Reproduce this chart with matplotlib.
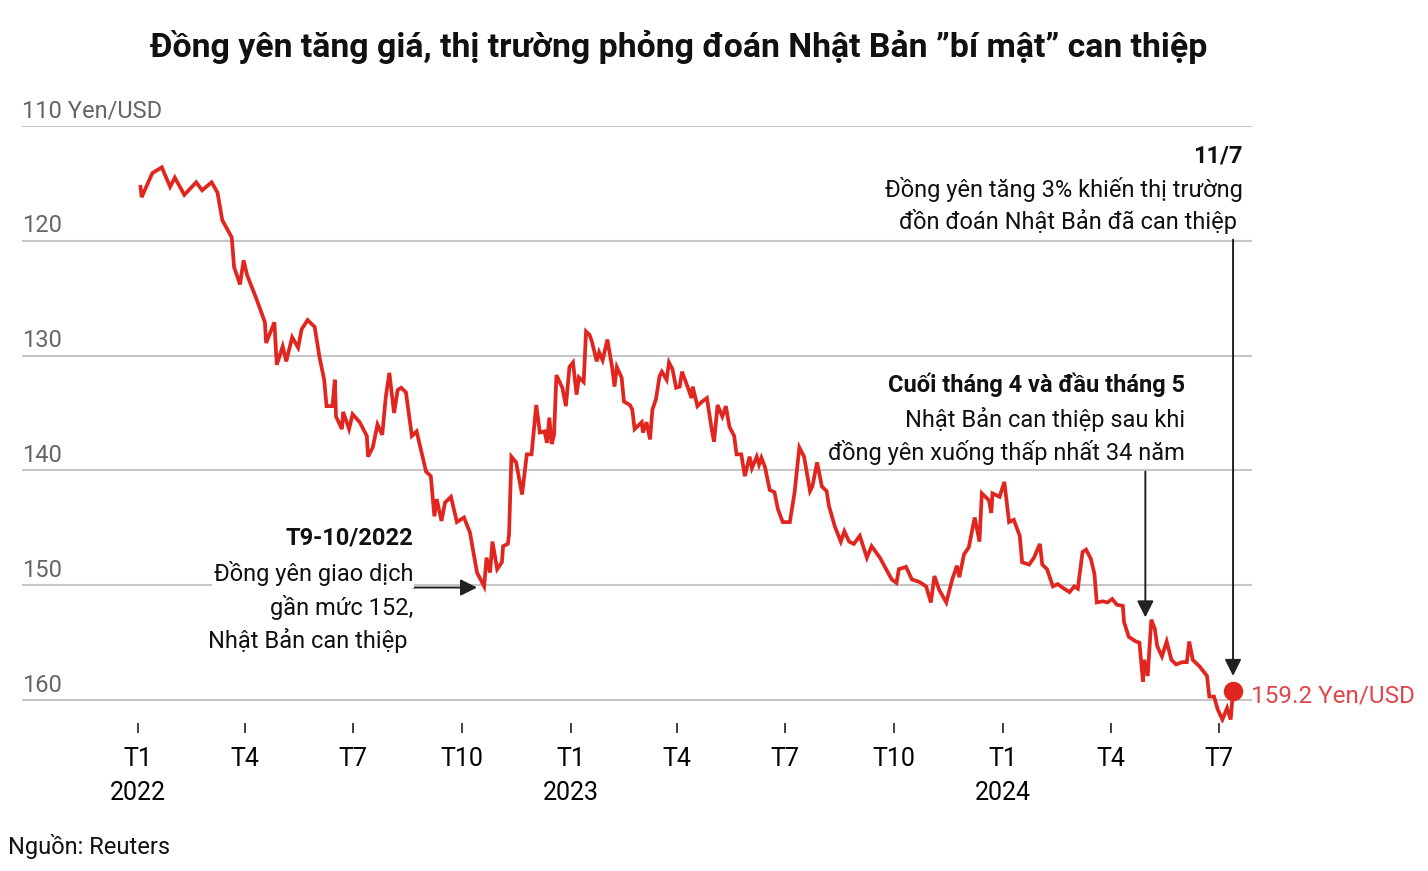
import matplotlib
matplotlib.use('Agg')
import matplotlib.pyplot as plt
import pandas as pd

plt.rcParams['font.family'] = ['Roboto', 'DejaVu Sans']

# USD/JPY
dates = [
    '2022-01-03', '2022-01-04', '2022-01-13', '2022-01-21', '2022-01-28', '2022-02-01', '2022-02-09',
    '2022-02-19', '2022-02-24', '2022-03-04', '2022-03-09', '2022-03-13', '2022-03-21', '2022-03-23',
    '2022-03-28', '2022-03-31', '2022-04-03', '2022-04-11', '2022-04-18', '2022-04-19', '2022-04-26',
    '2022-04-28', '2022-05-03', '2022-05-06', '2022-05-11', '2022-05-16', '2022-05-19', '2022-05-24',
    '2022-05-30', '2022-06-03', '2022-06-07', '2022-06-09', '2022-06-14', '2022-06-16', '2022-06-17',
    '2022-06-22', '2022-06-23', '2022-06-28', '2022-07-01', '2022-07-07', '2022-07-13', '2022-07-14',
    '2022-07-18', '2022-07-22', '2022-07-26', '2022-07-29', '2022-08-01', '2022-08-05', '2022-08-08',
    '2022-08-11', '2022-08-15', '2022-08-20', '2022-08-24', '2022-08-29', '2022-09-01', '2022-09-05',
    '2022-09-08', '2022-09-10', '2022-09-14', '2022-09-17', '2022-09-22', '2022-09-27', '2022-10-03',
    '2022-10-08', '2022-10-14', '2022-10-20', '2022-10-22', '2022-10-25', '2022-10-27', '2022-10-31',
    '2022-11-04', '2022-11-05', '2022-11-09', '2022-11-10', '2022-11-12', '2022-11-16', '2022-11-21',
    '2022-11-25', '2022-11-29', '2022-12-03', '2022-12-06', '2022-12-10', '2022-12-12', '2022-12-14',
    '2022-12-16', '2022-12-18', '2022-12-20', '2022-12-25', '2022-12-28', '2022-12-31',
    '2023-01-03', '2023-01-06', '2023-01-08', '2023-01-12', '2023-01-14', '2023-01-17', '2023-01-19',
    '2023-01-23', '2023-01-25', '2023-01-28', '2023-02-01', '2023-02-05', '2023-02-07', '2023-02-09',
    '2023-02-13', '2023-02-15', '2023-02-20', '2023-02-22', '2023-02-24', '2023-02-26', '2023-03-02',
    '2023-03-03', '2023-03-06', '2023-03-09', '2023-03-11', '2023-03-14', '2023-03-17', '2023-03-19',
    '2023-03-23', '2023-03-25', '2023-03-28', '2023-03-31', '2023-04-03', '2023-04-05', '2023-04-10',
    '2023-04-13', '2023-04-14', '2023-04-18', '2023-04-22', '2023-04-26', '2023-04-30', '2023-05-02',
    '2023-05-05', '2023-05-09', '2023-05-12', '2023-05-15', '2023-05-19', '2023-05-21', '2023-05-25',
    '2023-05-28', '2023-06-01', '2023-06-03', '2023-06-07', '2023-06-09', '2023-06-11', '2023-06-14',
    '2023-06-18', '2023-06-22', '2023-06-25', '2023-06-29', '2023-07-05', '2023-07-09', '2023-07-13',
    '2023-07-17', '2023-07-22', '2023-07-24', '2023-07-28', '2023-08-01', '2023-08-05', '2023-08-07',
    '2023-08-12', '2023-08-17', '2023-08-20', '2023-08-24', '2023-08-28', '2023-09-02', '2023-09-08',
    '2023-09-12', '2023-09-19', '2023-09-29', '2023-10-03', '2023-10-05', '2023-10-11', '2023-10-16',
    '2023-10-22', '2023-10-28', '2023-11-01', '2023-11-04', '2023-11-08', '2023-11-14', '2023-11-19',
    '2023-11-23', '2023-11-25', '2023-11-29', '2023-12-03', '2023-12-08', '2023-12-12', '2023-12-14',
    '2023-12-20', '2023-12-22', '2023-12-23', '2023-12-29',
    '2024-01-02', '2024-01-06', '2024-01-10', '2024-01-15', '2024-01-17', '2024-01-23', '2024-01-27',
    '2024-02-01', '2024-02-03', '2024-02-07', '2024-02-12', '2024-02-16', '2024-02-20', '2024-02-26',
    '2024-03-01', '2024-03-04', '2024-03-08', '2024-03-11', '2024-03-15', '2024-03-18', '2024-03-20',
    '2024-03-25', '2024-03-29', '2024-04-02', '2024-04-06', '2024-04-11', '2024-04-12', '2024-04-16',
    '2024-04-22', '2024-04-25', '2024-04-28', '2024-04-29', '2024-05-02', '2024-05-05', '2024-05-08',
    '2024-05-10', '2024-05-14', '2024-05-18', '2024-05-22', '2024-05-26', '2024-05-31', '2024-06-04',
    '2024-06-06', '2024-06-09', '2024-06-15', '2024-06-21', '2024-06-23', '2024-06-27', '2024-06-30',
    '2024-07-04', '2024-07-08', '2024-07-11', '2024-07-13',
]
usd_jpy = [
    115.3, 116.2, 114.1, 113.6, 115.3, 114.5, 116.0,
    114.9, 115.6, 114.9, 115.8, 118.2, 119.7, 122.3,
    123.8, 121.7, 123.0, 125.1, 127.1, 128.9, 127.1,
    130.8, 129.2, 130.5, 128.4, 129.3, 127.7, 126.9,
    127.5, 130.1, 132.1, 134.4, 134.4, 132.1, 135.3,
    136.4, 134.9, 136.4, 135.1, 135.8, 137.0, 138.8,
    138.0, 136.0, 136.9, 133.6, 131.5, 135.0, 133.0,
    132.8, 133.2, 137.0, 136.6, 138.8, 140.1, 140.5,
    144.0, 142.5, 144.4, 142.8, 142.3, 144.5, 144.1,
    145.4, 148.9, 150.1, 147.6, 148.9, 146.2, 148.6,
    148.0, 146.6, 146.4, 145.6, 138.8, 139.3, 142.1,
    138.6, 138.6, 134.3, 136.7, 136.6, 137.6, 135.4,
    137.7, 136.9, 131.7, 132.8, 134.4, 131.0,
    130.6, 133.4, 131.9, 132.3, 127.9, 128.2, 128.8,
    130.5, 129.7, 130.4, 128.6, 131.0, 132.7, 131.0,
    131.9, 134.0, 134.3, 134.7, 136.4, 136.2, 135.8,
    136.7, 135.8, 137.3, 134.7, 133.8, 131.8, 131.4,
    132.1, 130.6, 131.2, 132.8, 132.7, 131.4, 132.8,
    133.7, 132.7, 134.4, 134.0, 133.7, 136.4, 137.5,
    134.3, 135.3, 134.4, 136.2, 137.0, 138.6, 138.6,
    140.5, 138.8, 139.8, 138.8, 139.5, 138.9, 139.7,
    141.7, 141.9, 143.4, 144.5, 144.5, 141.9, 138.0,
    138.8, 141.8, 141.4, 139.3, 141.4, 141.8, 143.1,
    144.9, 146.2, 145.3, 146.2, 146.4, 145.7, 147.6,
    146.6, 147.6, 149.5, 149.8, 148.6, 148.4, 149.5,
    149.7, 150.1, 151.5, 149.2, 150.4, 151.5, 149.5,
    148.3, 149.3, 147.3, 146.7, 144.1, 146.2, 142.0,
    142.6, 143.7, 142.0, 142.3,
    141.0, 144.5, 144.3, 145.7, 148.0, 148.2, 147.6,
    146.4, 148.2, 148.6, 150.1, 149.9, 150.2, 150.6,
    150.1, 150.3, 147.1, 146.9, 147.7, 149.0, 151.5,
    151.4, 151.5, 151.2, 151.7, 151.8, 153.2, 154.5,
    154.9, 155.0, 158.4, 156.5, 157.9, 153.0, 153.8,
    155.3, 156.2, 154.9, 156.5, 156.9, 156.7, 156.7,
    154.9, 156.5, 157.1, 157.9, 159.7, 159.7, 160.8,
    161.7, 160.7, 161.7, 159.2,
]

tick_dates = ['2022-01-01', '2022-04-01', '2022-07-01', '2022-10-01', '2023-01-01', '2023-04-01',
              '2023-07-01', '2023-10-01', '2024-01-01', '2024-04-01', '2024-07-01']
tick_labels = ['T1\n2022', 'T4', 'T7', 'T10', 'T1\n2023', 'T4', 'T7', 'T10', 'T1\n2024', 'T4', 'T7']
grid_values = [110, 120, 130, 140, 150, 160]
grid_labels = ['110 Yen/USD', '120', '130', '140', '150', '160']

RED = '#e0261f'

df = pd.DataFrame({'date': pd.to_datetime(dates), 'rate': usd_jpy})
last_date = df['date'].iloc[-1]
last_rate = df['rate'].iloc[-1]

fig = plt.figure(figsize=(14.28, 8.71), dpi=100)
ax = fig.add_axes([22 / 1428, 1 - 723 / 871, 1230 / 1428, 597 / 871])

for v, lab in zip(grid_values, grid_labels):
    ax.axhline(v, color='#c6c6c6', lw=1.5, zorder=1)
    ax.annotate(lab, xy=(0, v), xycoords=('axes fraction', 'data'), xytext=(0, 6),
                textcoords='offset points', ha='left', va='baseline', fontsize=17,
                color='#666666')

ax.plot(df['date'], df['rate'], color=RED, lw=2.7, zorder=3, solid_joinstyle='miter')
ax.plot(last_date, last_rate, 'o', color=RED, ms=13, zorder=4)
ax.annotate(f"{last_rate:.1f} Yen/USD", xy=(last_date, last_rate),
            xytext=(13, -4), textcoords='offset points', ha='left', va='center',
            fontsize=17.5, color='#e0464a', annotation_clip=False)

start = pd.Timestamp('2022-01-01')
ax.set_xlim(start - pd.Timedelta(days=98), start + pd.Timedelta(days=940))
ax.set_ylim(162, 110)

ax.set_xticks(pd.to_datetime(tick_dates))
ax.set_xticklabels(tick_labels, fontsize=18, linespacing=1.55)
ax.tick_params(axis='x', length=7, width=1.3, color='#333333', pad=10)
ax.set_yticks([])
for s in ax.spines.values():
    s.set_visible(False)

# arrows
arrow = dict(arrowstyle='-|>', color='#222222', lw=1.4, mutation_scale=25, shrinkA=0, shrinkB=0)

ax.annotate('', xy=(last_date, 157.9), xytext=(last_date, 119.9), arrowprops=arrow, zorder=5)
ax.annotate('', xy=(pd.Timestamp('2024-04-30'), 152.8), xytext=(pd.Timestamp('2024-04-30'), 140.1),
            arrowprops=arrow, zorder=5)
ax.annotate('', xy=(pd.Timestamp('2022-10-14'), 150.2), xytext=(pd.Timestamp('2022-08-21'), 150.2),
            arrowprops=arrow, zorder=5)

def note(x, y, s, bold=False, bg=False):
    t = fig.text(x / 1428, 1 - y / 871, s, ha='right', va='center', fontsize=17,
                 fontweight='bold' if bold else 'normal', color='#111111', zorder=6)
    if bg:
        t.set_bbox(dict(facecolor='white', edgecolor='none', pad=1))
    return t

note(1243, 156, '11/7', bold=True)
note(1243, 189, 'Đồng yên tăng 3% khiến thị trường')
note(1237, 222, 'đồn đoán Nhật Bản đã can thiệp')

note(1185, 385, 'Cuối tháng 4 và đầu tháng 5', bold=True)
note(1185, 419, 'Nhật Bản can thiệp sau khi')
note(1185, 452, 'đồng yên xuống thấp nhất 34 năm')

note(413, 538, 'T9-10/2022', bold=True, bg=True)
note(413, 574, 'Đồng yên giao dịch', bg=True)
note(413, 607, 'gần mức 152,', bg=True)
note(408, 640, 'Nhật Bản can thiệp', bg=True)

fig.text(679 / 1428, 1 - 47 / 871, 'Đồng yên tăng giá, thị trường phỏng đoán Nhật Bản ”bí mật” can thiệp',
         ha='center', va='center', fontsize=24.4, fontweight='bold', color='#111111')
fig.text(8 / 1428, 1 - 846 / 871, 'Nguồn: Reuters', ha='left', va='center', fontsize=17, color='#111111')

fig.savefig('out.png', dpi=100)
